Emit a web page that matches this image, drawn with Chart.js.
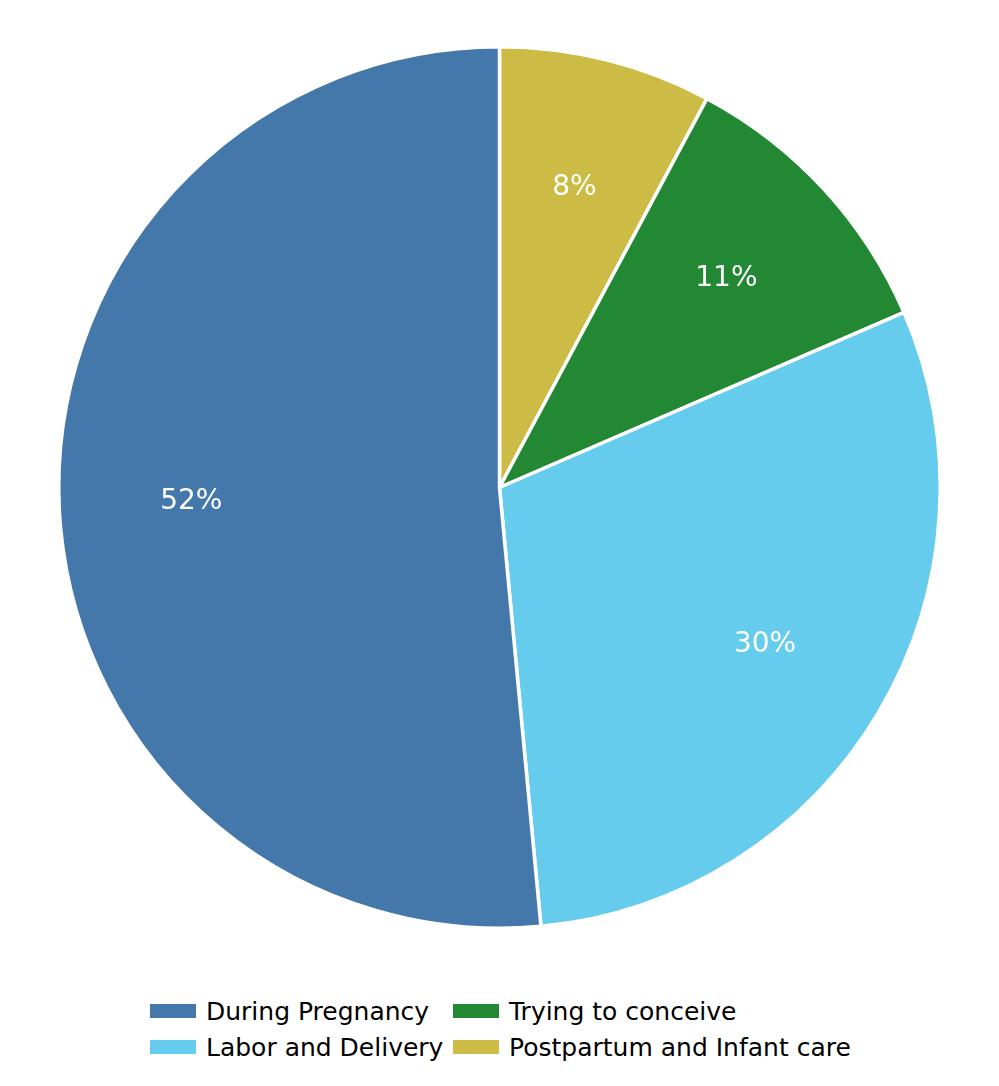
<!DOCTYPE html>
<html lang="en">
<head>
<meta charset="UTF-8">
<title>Pie</title>
<script src="https://cdn.jsdelivr.net/npm/chart.js"></script>
<style>
  body { margin: 0; background: #fff; }
  .wrap { position: absolute; left: 0; top: 0; width: 999px; height: 974px; }
  .legenda {
    position: absolute; left: 150px; top: 997px;
    display: grid; grid-template-columns: 303px auto; row-gap: 8px;
    font-family: "DejaVu Sans", sans-serif; font-size: 25px; color: #000;
  }
  .item { display: flex; align-items: center; height: 28px; white-space: nowrap; }
  .item span.cor { display: inline-block; width: 46px; height: 14px; margin-right: 10px; }
</style>
</head>
<body>
<div class="wrap"><canvas id="pizza"></canvas></div>
<div class="legenda" id="legenda"></div>

<script>
// clockwise from 12 o'clock
var categorias = ['Postpartum and Infant care', 'Trying to conceive', 'Labor and Delivery', 'During Pregnancy'];
var valores = [7.8, 10.7, 30.0, 51.5];
var rotulos = ['8%', '11%', '30%', '52%'];
var cores = ['#CCBB44', '#228833', '#66CCEE', '#4477AA'];
// legend order (row by row)
var ordemLegenda = ['During Pregnancy', 'Trying to conceive', 'Labor and Delivery', 'Postpartum and Infant care'];

var rotulosPlugin = {
    id: 'rotulos',
    afterDatasetsDraw: function (chart) {
        var ctx = chart.ctx;
        var meta = chart.getDatasetMeta(0);
        ctx.save();
        ctx.fillStyle = '#fff';
        ctx.font = '28px "DejaVu Sans"';
        ctx.textAlign = 'center';
        ctx.textBaseline = 'middle';
        meta.data.forEach(function (arc, i) {
            var p = arc.getProps(['x', 'y', 'startAngle', 'endAngle', 'outerRadius']);
            var meio = (p.startAngle + p.endAngle) / 2;
            var r = p.outerRadius * 0.7;
            ctx.fillText(rotulos[i], p.x + Math.cos(meio) * r, p.y + Math.sin(meio) * r);
        });
        ctx.restore();
    }
};

new Chart(document.getElementById('pizza'), {
    type: 'pie',
    data: {
        labels: categorias,
        datasets: [{
            data: valores,
            backgroundColor: cores,
            borderColor: '#fff',
            borderWidth: 3.5
        }]
    },
    options: {
        responsive: true,
        maintainAspectRatio: false,
        animation: false,
        layout: { padding: { top: 45, bottom: 44, left: 56, right: 56 } },
        plugins: { legend: { display: false }, tooltip: { enabled: false } }
    },
    plugins: [rotulosPlugin]
});

var leg = document.getElementById('legenda');
ordemLegenda.forEach(function (nome) {
    var i = categorias.indexOf(nome);
    var d = document.createElement('div');
    d.className = 'item';
    d.innerHTML = '<span class="cor" style="background:' + cores[i] + '"></span>' + nome;
    leg.appendChild(d);
});
</script>
</body>
</html>
